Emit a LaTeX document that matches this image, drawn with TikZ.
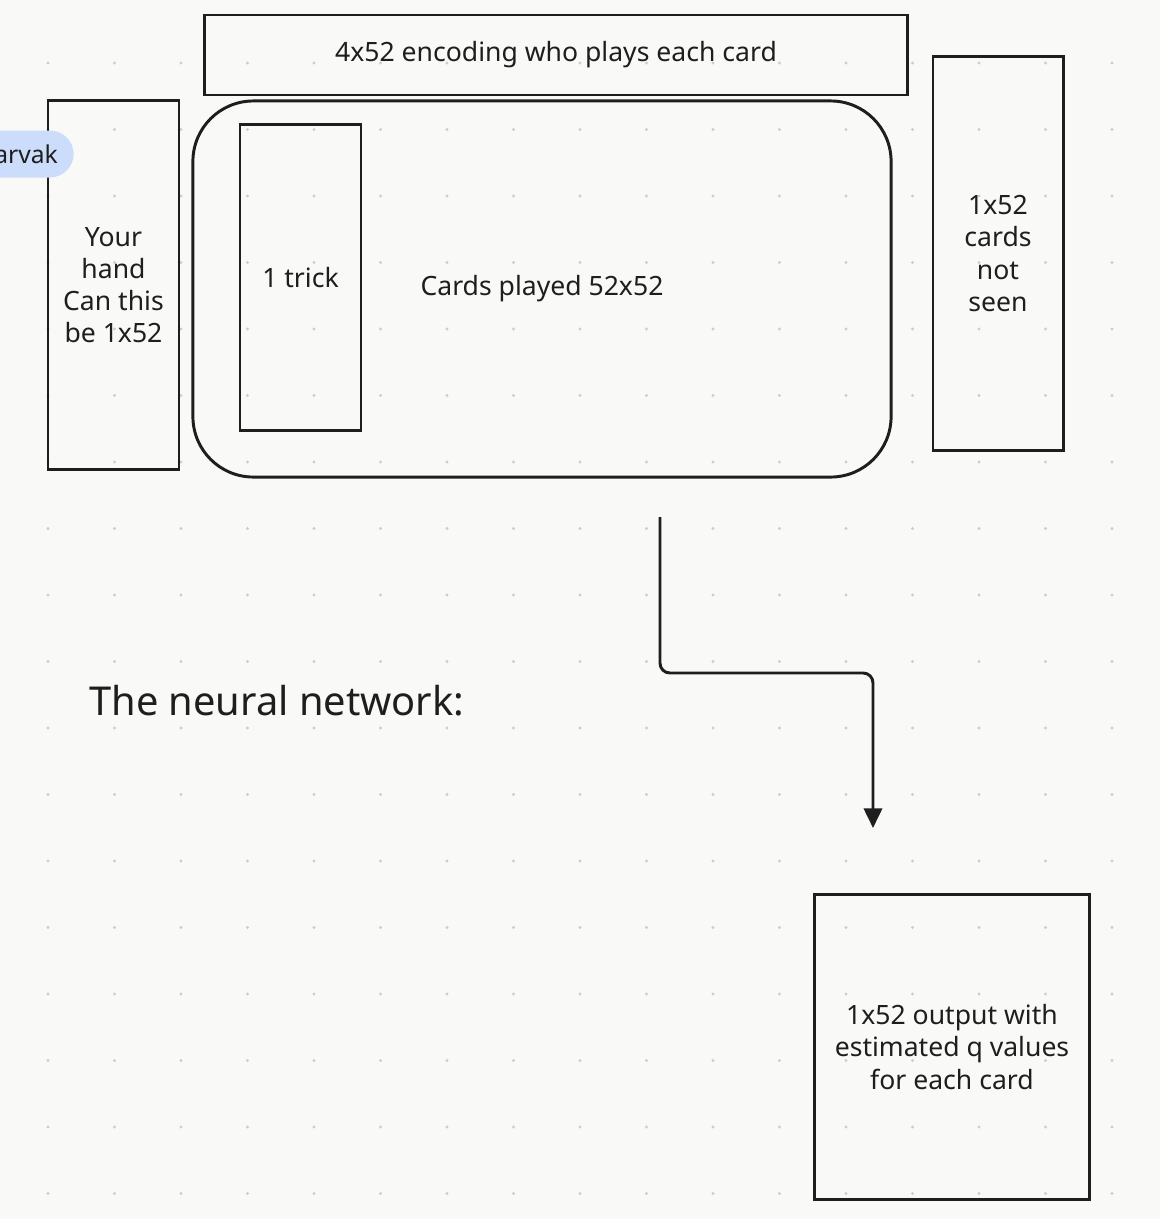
\documentclass[tikz,border=0pt]{standalone}
\usepackage{fontspec}
\setmainfont{Noto Sans}
\usetikzlibrary{arrows.meta}
\definecolor{ink}{HTML}{1E1E1E}
\definecolor{paper}{HTML}{F9F9F8}
\definecolor{gridgray}{HTML}{CDCDCD}
\definecolor{badgeblue}{HTML}{CCDDFB}

\begin{document}
\begin{tikzpicture}[x=0.025cm,y=-0.025cm,
    box/.style={draw=ink,line width=2.1pt,align=center,inner sep=0pt,text=ink,
      font=\fontsize{18.9}{22.8}\selectfont},
    flow/.style={draw=ink,line width=2.1pt,rounded corners=7pt,
      -{Triangle[length=14pt,width=13pt]}}]
            \useasboundingbox[fill=paper] (0,0) rectangle (1160,1219);
            \foreach \i in {0,...,16}
                \foreach \j in {0,...,17}
                    \fill[gridgray] (48+66.5*\i,63+66.5*\j) circle (1.1pt);
            \node[box,minimum width=17.55cm,minimum height=2cm] (enc) at (556,55) {\raisebox{-2pt}{4x52 encoding who plays each card}};
            \node[box,minimum width=3.275cm,minimum height=9.2cm] (hand) at (113.5,285) {Your\\hand\\Can this\\be 1x52};
            \node[box,rounded corners=43pt,minimum width=17.45cm,minimum height=9.4cm] (played) at (542,289) {\raisebox{-2pt}{Cards played 52x52}};
            \node[box,minimum width=3.025cm,minimum height=7.625cm] (trick) at (300.5,277.5) {1 trick};
            \node[box,minimum width=3.25cm,minimum height=9.825cm] (unseen) at (998,253.5) {1x52\\cards\\not\\seen};
            \node[box,minimum width=6.85cm,minimum height=7.6cm] (output) at (952,1047) {1x52 output with\\estimated q values\\for each card};
            \node[anchor=west,text=ink,inner sep=0pt,font=\fontsize{28.3}{32}\selectfont] (title) at (89,701) {The neural network:};
            \node[fill=badgeblue,rounded corners=17pt,anchor=east,text width=3cm,align=right,
                  inner xsep=0.4cm,minimum height=1.175cm,text=ink,font=\fontsize{17.5}{22}\selectfont] (badge) at (74,154) {arvak};
            \coordinate (src) at (660,517);
            \coordinate (bend) at (660,673);
            \coordinate (dst) at (873,828);
            \draw[flow] (src) -- (bend) -| (dst);
        \end{tikzpicture}
\end{document}
